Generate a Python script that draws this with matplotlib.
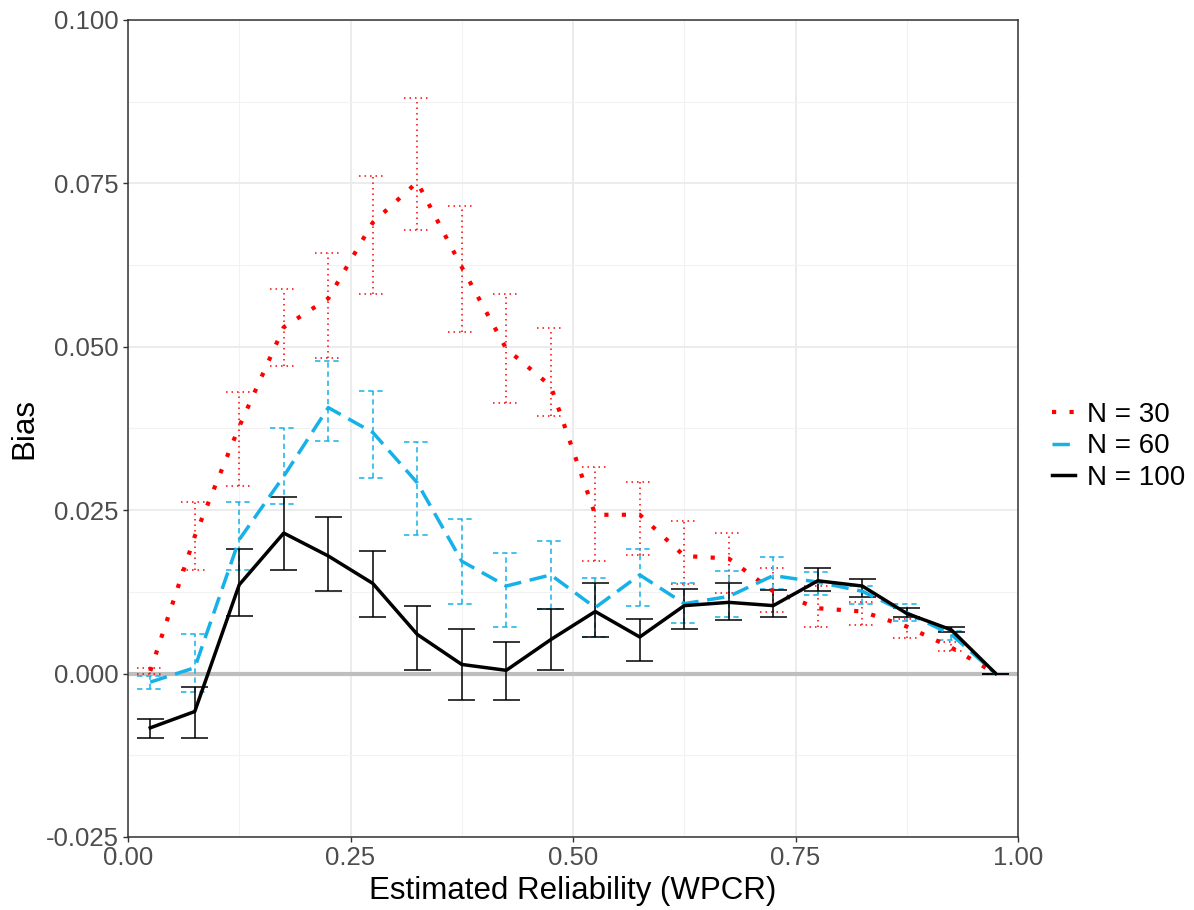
import matplotlib
matplotlib.use("Agg")
import matplotlib.pyplot as plt
import numpy as np
from matplotlib.ticker import MultipleLocator, FuncFormatter

plt.rcParams['font.family'] = ['Liberation Sans', 'DejaVu Sans']

x = [0.025, 0.075, 0.125, 0.175, 0.225, 0.275, 0.325, 0.375, 0.425, 0.475,
     0.525, 0.575, 0.625, 0.675, 0.725, 0.775, 0.825, 0.875, 0.925, 0.975]

n30 = [0.0004, 0.0210, 0.0378, 0.0530, 0.0574, 0.0690, 0.0752, 0.0622, 0.0497, 0.0440,
       0.0243, 0.0243, 0.0180, 0.0176, 0.0126, 0.0100, 0.0095, 0.0072, 0.0040, 0.0000]
n30_lo = [0.0000, 0.0159, 0.0287, 0.0470, 0.0483, 0.0581, 0.0679, 0.0523, 0.0414, 0.0394,
          0.0173, 0.0182, 0.0137, 0.0123, 0.0094, 0.0071, 0.0075, 0.0055, 0.0034, 0.0000]
n30_hi = [0.0008, 0.0262, 0.0431, 0.0589, 0.0644, 0.0762, 0.0880, 0.0716, 0.0581, 0.0529,
          0.0316, 0.0293, 0.0233, 0.0215, 0.0161, 0.0134, 0.0110, 0.0083, 0.0049, 0.0000]

n60 = [-0.0013, 0.0009, 0.0205, 0.0302, 0.0407, 0.0369, 0.0292, 0.0172, 0.0134, 0.0151,
       0.0101, 0.0151, 0.0107, 0.0118, 0.0150, 0.0140, 0.0126, 0.0093, 0.0060, 0.0000]
n60_lo = [-0.0024, -0.0028, 0.0159, 0.0260, 0.0356, 0.0299, 0.0212, 0.0107, 0.0071, 0.0099,
          0.0056, 0.0103, 0.0078, 0.0086, 0.0130, 0.0120, 0.0106, 0.0080, 0.0052, 0.0000]
n60_hi = [-0.0003, 0.0061, 0.0263, 0.0376, 0.0479, 0.0433, 0.0354, 0.0237, 0.0184, 0.0203,
          0.0147, 0.0191, 0.0138, 0.0157, 0.0179, 0.0155, 0.0134, 0.0107, 0.0065, 0.0000]

n100 = [-0.0083, -0.0058, 0.0136, 0.0215, 0.0180, 0.0138, 0.0060, 0.0014, 0.0005, 0.0052,
        0.0095, 0.0056, 0.0104, 0.0109, 0.0104, 0.0142, 0.0134, 0.0092, 0.0067, 0.0000]
n100_lo = [-0.0099, -0.0099, 0.0088, 0.0159, 0.0127, 0.0086, 0.0006, -0.0041, -0.0041, 0.0006,
           0.0056, 0.0019, 0.0069, 0.0082, 0.0086, 0.0127, 0.0117, 0.0086, 0.0063, 0.0000]
n100_hi = [-0.0069, -0.0020, 0.0190, 0.0270, 0.0239, 0.0188, 0.0103, 0.0069, 0.0048, 0.0099,
           0.0138, 0.0084, 0.0130, 0.0138, 0.0128, 0.0161, 0.0144, 0.0101, 0.0071, 0.0000]

labels = ["N = 30", "N = 60", "N = 100"]
colors = ["#FF0000", "#16B1E8", "#000000"]

fig = plt.figure(figsize=(11.94, 9.10), dpi=100)
ax = fig.add_axes([128/1194, 1-837/910, (1018-128)/1194, (837-20)/910])

ax.set_xlim(0, 1)
ax.set_ylim(-0.025, 0.1)
ax.xaxis.set_major_locator(MultipleLocator(0.25))
ax.xaxis.set_minor_locator(MultipleLocator(0.125))
ax.yaxis.set_major_locator(MultipleLocator(0.025))
ax.yaxis.set_minor_locator(MultipleLocator(0.0125))
ax.grid(which='major', color='#EBEBEB', lw=1.3)
ax.grid(which='minor', color='#F2F2F2', lw=0.8)
ax.set_axisbelow(True)
ax.tick_params(which='minor', length=0)
ax.tick_params(which='major', length=3.5, color='#333333', labelsize=18.5,
               labelcolor='#4D4D4D', width=1, pad=3)
ax.xaxis.set_major_formatter(FuncFormatter(lambda v, p: f"{v:.2f}"))
ax.yaxis.set_major_formatter(FuncFormatter(lambda v, p: f"{v:.3f}"))
for s in ax.spines.values():
    s.set_color('#333333')
    s.set_linewidth(1.1)

ax.axhline(0, color='#BEBEBE', lw=3, zorder=1.5)

series = [(n30, n30_lo, n30_hi), (n60, n60_lo, n60_hi), (n100, n100_lo, n100_hi)]
main_styles = [(0, (1, 3.2)), (0, (5, 2.5)), '-']
main_lw = [3.0, 2.5, 2.5]
eb_styles = [(0, (1, 2.6)), (0, (3.5, 2.5)), '-']
xa = np.array(x)
hw = 0.015
for (y, lo, hi), c, ls, lw, els, lab in zip(series, colors, main_styles, main_lw, eb_styles, labels):
    ax.vlines(xa, lo, hi, colors=c, linestyles=els, lw=1.1, zorder=2)
    ax.hlines(lo, xa - hw, xa + hw, colors=c, linestyles=els, lw=1.1, zorder=2)
    ax.hlines(hi, xa - hw, xa + hw, colors=c, linestyles=els, lw=1.1, zorder=2)
    ax.plot(xa, y, color=c, ls=ls, lw=lw, label=lab, zorder=3)

ax.set_xlabel("Estimated Reliability (WPCR)", fontsize=22.5, color='black', labelpad=4)
ax.set_ylabel("Bias", fontsize=22.5, color='black', labelpad=5)

leg = ax.legend(loc='center left', bbox_to_anchor=(1.038, 0.478), frameon=False,
                fontsize=20, handlelength=0.85, handletextpad=0.4, labelspacing=0.2,
                borderaxespad=0, borderpad=0)

fig.savefig("out.png", dpi=100)
